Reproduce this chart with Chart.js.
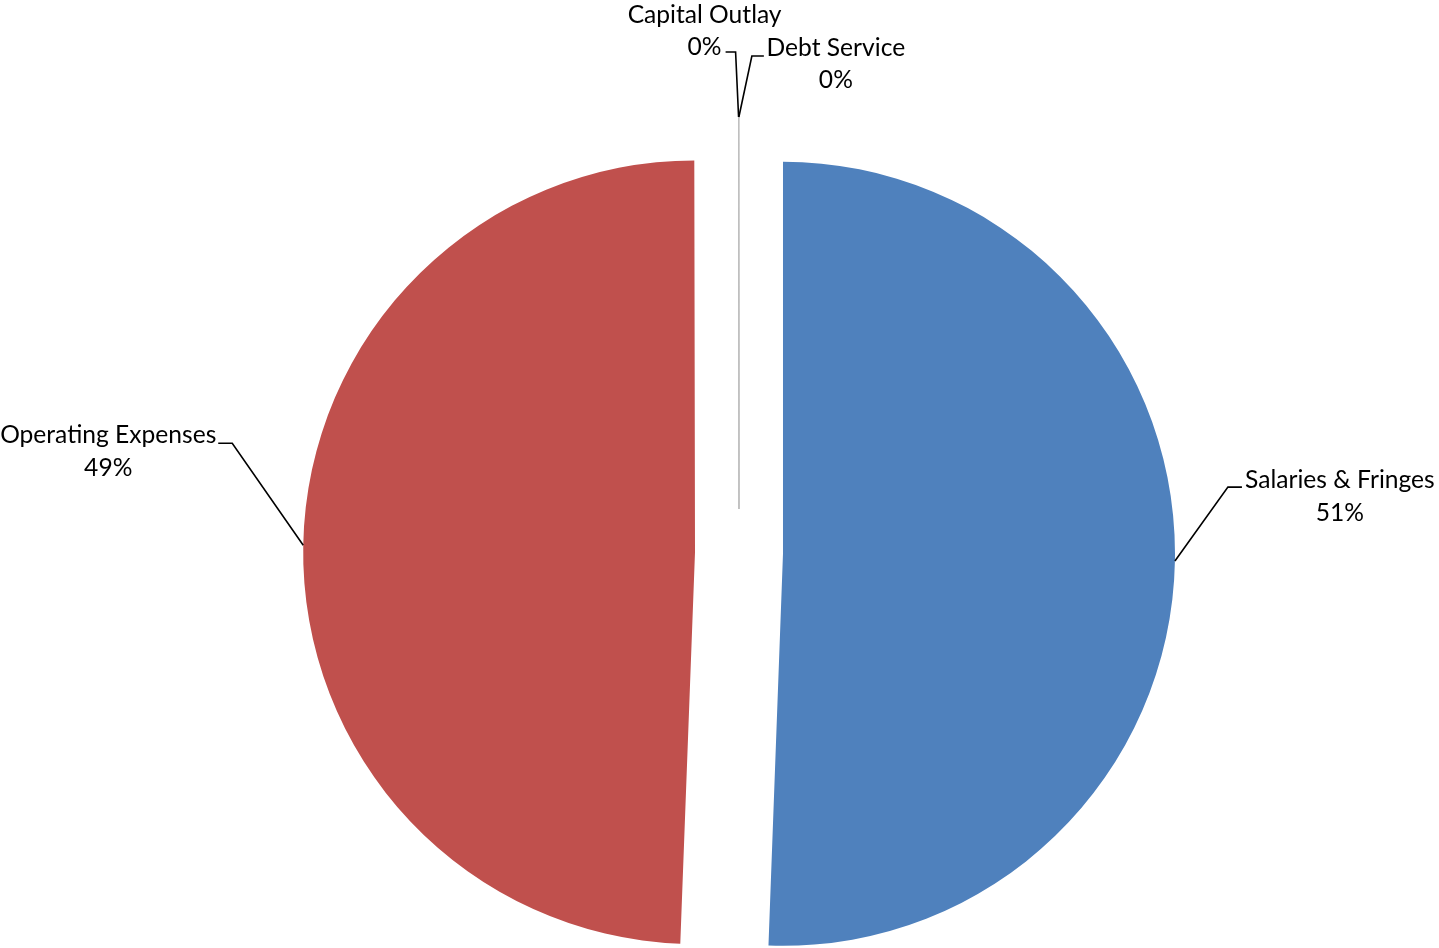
<!doctype html>
<html>
<head>
<meta charset="utf-8">
<title>Expenditures</title>
<script src="https://cdn.jsdelivr.net/npm/chart.js@4"></script>
<style>
  html, body { margin: 0; padding: 0; background: #fff; }
  canvas { display: block; }
</style>
</head>
<body>
<canvas id="pieChart" width="1439" height="948"></canvas>
<script>
    const categories = ['Salaries & Fringes', 'Operating Expenses', 'Capital Outlay', 'Debt Service'];
    const shares = [50.6, 49.4, 0.01, 0.01];
    const sliceColors = ['#4F81BD', '#C0504D', '#BFBFBF', '#BFBFBF'];

    // label placement relative to the slice's outer edge point
    // elbow = bend of the leader, tail = horizontal stub, text = block centre vs stub end
    const labelPlacement = [
        { elbow: [53, -74], tail: 14, text: [98, -7] },
        { elbow: [-71, -102], tail: -14, text: [-110, -8] },
        { elbow: [-3, -65], tail: -10, text: [-21, -37] },
        { elbow: [13, -61], tail: 12, text: [72, -8] }
    ];

    // chart.js trims the arc ends of exploded slices a little (offset / PI in pathArc),
    // widen them back so the cut edges stay on the real angles
    const explodeFix = {
        id: 'explodeFix',
        afterDatasetUpdate(chart, args) {
            chart.getDatasetMeta(args.index).data.forEach(arc => {
                if (arc.circumference < 0.01) return;
                const offset = (arc.options && arc.options.offset) || 0;
                const ro = offset / 4 * (1 - Math.sin(Math.min(Math.PI, arc.circumference)));
                const d = ro / (2 * Math.PI * (arc.outerRadius + ro));
                arc.startAngle -= d;
                arc.endAngle += d;
                arc.circumference += 2 * d;
            });
        }
    };

    const leaderLabels = {
        id: 'leaderLabels',
        afterDatasetsDraw(chart) {
            const ctx = chart.ctx;
            const arcs = chart.getDatasetMeta(0).data;
            const total = shares.reduce((a, b) => a + b, 0);
            ctx.save();
            ctx.font = '24.6px Lato';
            ctx.textAlign = 'center';
            ctx.textBaseline = 'middle';
            ctx.strokeStyle = '#000';
            ctx.fillStyle = '#000';
            ctx.lineWidth = 1.6;
            arcs.forEach((arc, i) => {
                const p = arc.getProps(['x', 'y', 'startAngle', 'endAngle', 'outerRadius', 'circumference'], true);
                const off = (arc.options.offset || 0) / 4;
                const fix = 1 - Math.sin(Math.min(Math.PI, p.circumference));
                const mid = (p.startAngle + p.endAngle) / 2;
                const dist = off + p.outerRadius + off * fix;
                const ax = p.x + Math.cos(mid) * dist;
                const ay = p.y + Math.sin(mid) * dist;
                const pl = labelPlacement[i];
                const ex = ax + pl.elbow[0];
                const ey = ay + pl.elbow[1];
                const tx = ex + pl.tail;
                ctx.beginPath();
                ctx.moveTo(ax, ay);
                ctx.lineTo(ex, ey);
                ctx.lineTo(tx, ey);
                ctx.stroke();
                const pct = Math.round(shares[i] / total * 100) + '%';
                const cx = tx + pl.text[0];
                const cy = ey + pl.text[1];
                ctx.fillText(categories[i], cx, cy);
                ctx.fillText(pct, cx, cy + 32.5);
            });
            ctx.restore();
        }
    };

    new Chart(document.getElementById('pieChart'), {
        type: 'pie',
        data: {
            labels: categories,
            datasets: [{
                data: shares,
                backgroundColor: sliceColors,
                borderColor: ['#ffffff', '#ffffff', '#BFBFBF', '#BFBFBF'],
                borderWidth: [0, 0, 1, 1],
                offset: 176
            }]
        },
        options: {
            responsive: false,
            animation: false,
            devicePixelRatio: 1,
            events: [],
            radius: 348,
            layout: { padding: { left: 39, top: 158, right: 0, bottom: 0 } },
            plugins: {
                legend: { display: false },
                tooltip: { enabled: false }
            }
        },
        plugins: [explodeFix, leaderLabels]
    });
</script>
</body>
</html>
